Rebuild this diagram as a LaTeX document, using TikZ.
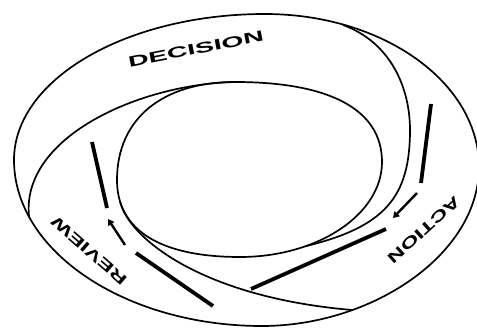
\documentclass[tikz,border=0pt]{standalone}
\usepackage{fontspec}
\setsansfont{Liberation Sans}
\usetikzlibrary{arrows.meta}

\begin{document}
\begin{tikzpicture}[x=1pt, y=1pt,
    ring/.style={line width=1.7pt, line join=round},
    bar/.style={line width=3.8pt},
    flow/.style={line width=2.4pt, -{Triangle[length=6pt, width=7pt]}},
    ringtext/.style={font=\sffamily\bfseries\fontsize{15}{15}\selectfont, inner sep=0pt}
]
\useasboundingbox (0,0) rectangle (477,327);

% Outer ring
\draw[ring] (14,167) .. controls (14,247.6) and (126.4,313) .. (265,313)
    .. controls (383.1,313) and (479,244.5) .. (479,160)
    .. controls (479,72.5) and (372,1) .. (262,1)
    .. controls (126,1) and (14,75.4) .. (14,167) -- cycle;

% Inner ring
\draw[ring] (117,147) .. controls (117,207.8) and (161.8,245) .. (235,245)
    .. controls (330.6,245) and (382,217) .. (382,165)
    .. controls (382,112.75) and (318.1,70) .. (240,70)
    .. controls (160,70) and (117,97) .. (117,147) -- cycle;

% Spirals between the rings
\draw[ring] (235,245) .. controls (140,243) and (20,190) .. (29.1,109.7);
\draw[ring] (119.9,126) .. controls (128,90) and (200,30) .. (352,17);
\draw[ring] (343,302) .. controls (390,285) and (410,240) .. (410,197)
    .. controls (410,130) and (385,100) .. (305.1,80.7);

% Labels
\node[ringtext, rotate=11] (decision) at (196,278) {\scalebox{1.9}[1]{DECISION}};
\node[ringtext, rotate=222] (action) at (424,97) {\scalebox{1.6}[1]{ACTION}};
\node[ringtext, rotate=139] (review) at (89,76) {\scalebox{1.6}[1]{REVIEW}};

% Flow marks
\coordinate (a1) at (431,223); \coordinate (a2) at (421,144);
\coordinate (b1) at (417,134); \coordinate (b2) at (393,109);
\coordinate (c1) at (386,98);  \coordinate (c2) at (251,38);
\coordinate (d1) at (92,185);  \coordinate (d2) at (107,119);
\coordinate (e1) at (125,82);  \coordinate (e2) at (108,108);
\coordinate (f1) at (136,74);  \coordinate (f2) at (213,21);

\draw[bar] (a1) -- (a2);
\draw[flow] (b1) -- (b2);
\draw[bar] (c1) -- (c2);
\draw[bar] (d1) -- (d2);
\draw[flow] (e1) -- (e2);
\draw[bar] (f1) -- (f2);

\end{tikzpicture}
\end{document}
